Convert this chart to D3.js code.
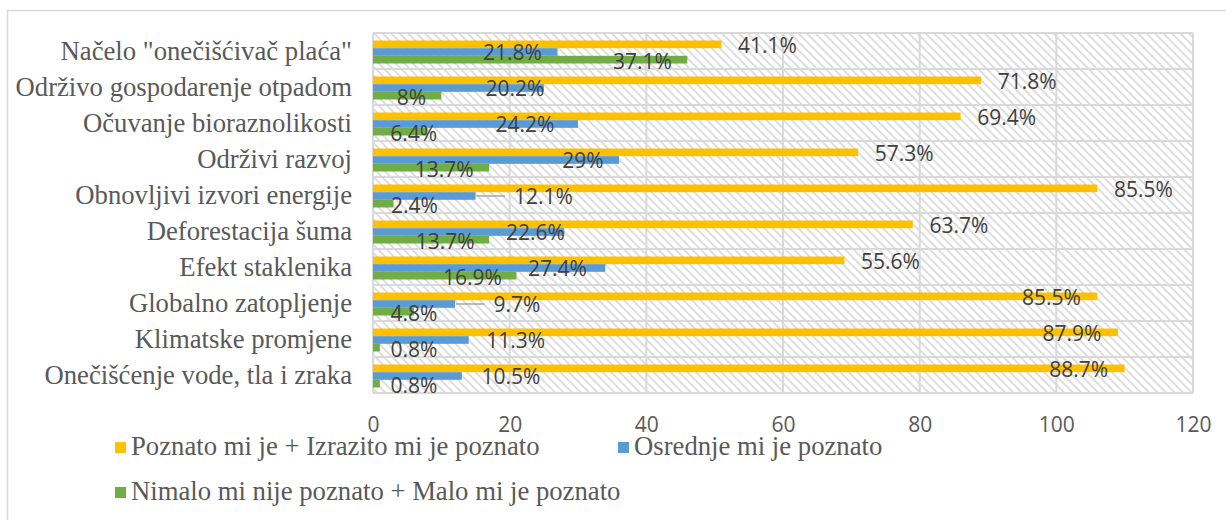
<!DOCTYPE html>
<html>
<head>
<meta charset="utf-8">
<script src="https://cdn.jsdelivr.net/npm/d3@7"></script>
<style>
    body { margin: 0; background: #fff; }
</style>
</head>
<body>
<div id="vis"></div>
<script>
// categories, top to bottom
let categories = [
    'Načelo "onečišćivač plaća"',
    'Održivo gospodarenje otpadom',
    'Očuvanje bioraznolikosti',
    'Održivi razvoj',
    'Obnovljivi izvori energije',
    'Deforestacija šuma',
    'Efekt staklenika',
    'Globalno zatopljenje',
    'Klimatske promjene',
    'Onečišćenje vode, tla i zraka'
];

let seriesNames = [
    'Poznato mi je + Izrazito mi je poznato',
    'Osrednje mi je poznato',
    'Nimalo mi nije poznato + Malo mi je poznato'
];

// bar lengths (number of answers)
let known = [51, 89, 86, 71, 106, 79, 69, 106, 109, 110];
let medium = [27, 25, 30, 36, 15, 28, 34, 12, 14, 13];
let unknown = [46, 10, 8, 17, 3, 17, 21, 6, 1, 1];

// data labels as written on the chart
let knownLabels = ['41.1%', '71.8%', '69.4%', '57.3%', '85.5%', '63.7%', '55.6%', '85.5%', '87.9%', '88.7%'];
let mediumLabels = ['21.8%', '20.2%', '24.2%', '29%', '12.1%', '22.6%', '27.4%', '9.7%', '11.3%', '10.5%'];
let unknownLabels = ['37.1%', '8%', '6.4%', '13.7%', '2.4%', '13.7%', '16.9%', '4.8%', '0.8%', '0.8%'];

let xTicks = [0, 20, 40, 60, 80, 100, 120];

let colors = ['#FFC000', '#5B9BD5', '#70AD47'];

// ---------------------------------------------------------------

let width = 1226,
    height = 520;

let plot = { left: 373, right: 1193, top: 33, bottom: 393 };

let svg = d3.select('#vis')
    .append('svg')
    .attr('width', width)
    .attr('height', height)
    .style('font-family', '"Open Sans", sans-serif');

// hatched plot background
let pat = svg.append('defs')
    .append('pattern')
    .attr('id', 'hatch')
    .attr('patternUnits', 'userSpaceOnUse')
    .attr('width', 6)
    .attr('height', 6)
    .attr('patternTransform', 'rotate(-45)');
pat.append('rect').attr('width', 6).attr('height', 6).attr('fill', '#fff');
pat.append('line')
    .attr('x1', 1).attr('y1', 0).attr('x2', 1).attr('y2', 6)
    .attr('stroke', '#dedede')
    .attr('stroke-width', 2);

// outer chart border
svg.append('rect')
    .attr('x', 7.5).attr('y', 10.5)
    .attr('width', 1240).attr('height', 540)
    .attr('fill', 'none')
    .attr('stroke', '#d9d9d9')
    .attr('stroke-width', 1.5);

let x = d3.scaleLinear()
    .domain([0, 120])
    .range([plot.left, plot.right]);

let y = d3.scaleBand()
    .domain(categories)
    .range([plot.top, plot.bottom]);

let yInner = d3.scaleBand()
    .domain([0, 1, 2])
    .range([7.5, 30.5]);

svg.append('rect')
    .attr('x', plot.left).attr('y', plot.top)
    .attr('width', plot.right - plot.left)
    .attr('height', plot.bottom - plot.top)
    .attr('fill', 'url(#hatch)');

// grid
svg.append('g').selectAll('line')
    .data(xTicks)
    .join('line')
    .attr('x1', d => x(d)).attr('x2', d => x(d))
    .attr('y1', plot.top).attr('y2', plot.bottom)
    .attr('stroke', '#d9d9d9')
    .attr('stroke-width', 2);

svg.append('g').selectAll('line')
    .data(categories.concat(['end']))
    .join('line')
    .attr('x1', plot.left).attr('x2', plot.right)
    .attr('y1', d => d === 'end' ? plot.bottom : y(d))
    .attr('y2', d => d === 'end' ? plot.bottom : y(d))
    .attr('stroke', '#d9d9d9')
    .attr('stroke-width', 2);

let series = [known, medium, unknown];
let labels = [knownLabels, mediumLabels, unknownLabels];

// manual shifts of each data label, relative to the bar end (px)
let labelShift = [
    [46, 46, 46, 46, 46, 46, 46, -46, -46, -46],
    [-45, -29, -53, -36, 68, -29, -48, 62, 47, 49],
    [-45, -30, -14, -45, 21, -44, -44, 0, 34, 34]
];
let labelLift = [1, 0, 1.5];

series.forEach(function(vals, s) {
    svg.append('g').selectAll('rect')
        .data(vals)
        .join('rect')
        .attr('x', x(0))
        .attr('y', (d, i) => y(categories[i]) + yInner(s))
        .attr('width', d => x(d) - x(0))
        .attr('height', yInner.bandwidth())
        .attr('fill', colors[s]);
});

series.forEach(function(vals, s) {
    let g = svg.append('g');
    g.selectAll('text')
        .data(vals)
        .join('text')
        .attr('x', (d, i) => x(d) + labelShift[s][i])
        .attr('y', (d, i) => y(categories[i]) + yInner(s) + yInner.bandwidth() / 2 + labelLift[s])
        .attr('dy', '0.36em')
        .attr('text-anchor', 'middle')
        .attr('font-size', 21)
        .attr('fill', '#404040')
        .text((d, i) => labels[s][i])
        .each(function(d, i) {
            // leader line when the label was dragged away from its bar
            if (labelShift[s][i] > 55) {
                let w = this.getComputedTextLength();
                let ly = y(categories[i]) + yInner(s) + yInner.bandwidth() / 2;
                g.append('line')
                    .attr('x1', x(d) + 1)
                    .attr('x2', x(d) + labelShift[s][i] - w / 2 - 9)
                    .attr('y1', ly).attr('y2', ly)
                    .attr('stroke', '#a6a6a6')
                    .attr('stroke-width', 1.5);
            }
        });
});

// category labels
svg.append('g').selectAll('text')
    .data(categories)
    .join('text')
    .attr('x', 352)
    .attr('y', d => y(d) + y.bandwidth() / 2)
    .attr('dy', '0.35em')
    .attr('text-anchor', 'end')
    .attr('font-family', '"Liberation Serif", "Times New Roman", serif')
    .attr('font-size', 26.7)
    .attr('fill', '#595959')
    .text(d => d);

// x axis
let xAxis = svg.append('g')
    .attr('transform', `translate(0,${plot.bottom})`)
    .call(d3.axisBottom(x).tickValues(xTicks).tickSize(0).tickPadding(24));
xAxis.select('.domain').remove();
xAxis.selectAll('text')
    .attr('font-family', '"Open Sans", sans-serif')
    .attr('font-size', 21)
    .attr('fill', '#595959');

// legend
let legendPos = [[115, 455], [618, 455], [115, 500]];
let legend = svg.append('g').selectAll('g')
    .data(seriesNames)
    .join('g')
    .attr('transform', (d, i) => `translate(${legendPos[i][0]},${legendPos[i][1]})`);
legend.append('rect')
    .attr('x', 0).attr('y', -13)
    .attr('width', 11).attr('height', 11)
    .attr('fill', (d, i) => colors[i]);
legend.append('text')
    .attr('x', 16)
    .attr('font-family', '"Liberation Serif", "Times New Roman", serif')
    .attr('font-size', 26.7)
    .attr('fill', '#595959')
    .text(d => d);
</script>
</body>
</html>
